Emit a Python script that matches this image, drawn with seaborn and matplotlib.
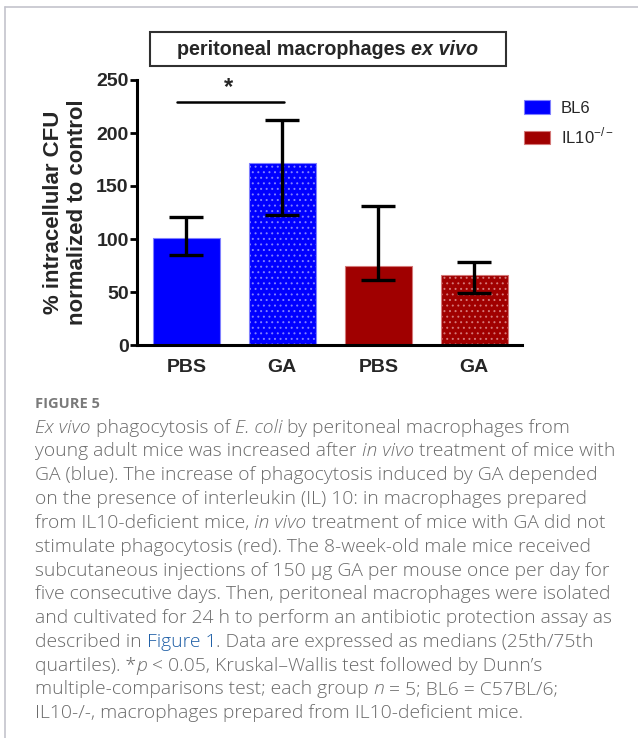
import re
import numpy as np
import pandas as pd
import matplotlib
matplotlib.use("Agg")
import matplotlib.pyplot as plt
import seaborn as sns
from matplotlib.patches import Patch, Rectangle
from matplotlib.lines import Line2D

# ---------------- data ----------------
groups = ["PBS", "GA", "PBS", "GA"]
strains = ["BL6", "BL6", "IL10", "IL10"]
medians = [101, 172, 75, 66.5]
q25 = [85, 123, 61, 49]
q75 = [120.5, 212, 131, 78]
yticks = [0, 50, 100, 150, 200, 250]
legend_labels = ["BL6", r"IL10$^{\mathregular{-/-}}$"]
ylabel = "% intracellular CFU\nnormalized to control"
title_parts = [("peritoneal macrophages ", "normal"), ("ex vivo", "italic")]
sig_pair = (0, 1)
sig_text = "*"
caption_label = "FIGURE 5"
caption_lines = [
    "_Ex vivo_ phagocytosis of _E. coli_ by peritoneal macrophages from",
    "young adult mice was increased after _in vivo_ treatment of mice with",
    "GA (blue). The increase of phagocytosis induced by GA depended",
    "on the presence of interleukin (IL) 10: in macrophages prepared",
    "from IL10-deficient mice, _in vivo_ treatment of mice with GA did not",
    "stimulate phagocytosis (red). The 8-week-old male mice received",
    "subcutaneous injections of 150 μg GA per mouse once per day for",
    "five consecutive days. Then, peritoneal macrophages were isolated",
    "and cultivated for 24 h to perform an antibiotic protection assay as",
    "described in [Figure 1]. Data are expressed as medians (25th/75th",
    "quartiles). *_p_ < 0.05, Kruskal–Wallis test followed by Dunn’s",
    "multiple-comparisons test; each group _n_ = 5; BL6 = C57BL/6;",
    "IL10-/-, macrophages prepared from IL10-deficient mice.",
]

# ---------------- styling ----------------
sns.set_style("ticks")
plt.rcParams["font.family"] = ["Liberation Sans", "DejaVu Sans"]
plt.rcParams["hatch.linewidth"] = 0.7

W, H = 638, 738
fig = plt.figure(figsize=(W / 100, H / 100), dpi=100)
fig.patch.set_facecolor("white")
renderer = fig.canvas.get_renderer()

blue, red = "#0000ff", "#a00000"
edge = {"BL6": "#8080ff", "IL10": "#d47878"}

ax = fig.add_axes([137.3 / W, 1 - 345 / H, (522.3 - 137.3) / W, (345 - 80) / H])

df = pd.DataFrame({
    "slot": [f"{s} {g}" for s, g in zip(strains, groups)],
    "group": groups,
    "strain": strains,
    "median": medians,
})
sns.barplot(data=df, x="slot", y="median", hue="strain", order=list(df["slot"]),
            palette={"BL6": blue, "IL10": red}, dodge=False, width=0.7,
            errorbar=None, legend=False, ax=ax, saturation=1)

for p in ax.patches:
    i = int(round(p.get_x() + p.get_width() / 2))
    if 0 <= i < len(groups):
        p.set_edgecolor(edge[strains[i]])
        p.set_linewidth(0.8)
        if groups[i] == "GA":
            p.set_hatch("...")

lo = np.array(medians) - np.array(q25)
hi = np.array(q75) - np.array(medians)
ax.errorbar(np.arange(len(medians)), medians, yerr=[lo, hi], fmt="none",
            ecolor="black", elinewidth=2.4, capsize=12, capthick=2.4, zorder=5)

ax.set_xlim(-0.51, 3.5)
ax.set_ylim(0, 250)
ax.set_yticks(yticks)
ax.set_yticklabels([str(t) for t in yticks], fontsize=14, fontweight="bold")
ax.set_xticks(range(len(groups)))
ax.set_xticklabels(groups, fontsize=14, fontweight="bold")
ax.tick_params(axis="x", length=0, pad=10)
ax.tick_params(axis="y", length=5, width=2, pad=1.2, color="black")
ax.set_xlabel("")
ax.set_ylabel(ylabel, fontsize=16, fontweight="bold", linespacing=1.2)
ax.yaxis.set_label_coords((88 - 137.3) / 385, 0.5)
sns.despine(ax=ax)
for s in ["left", "bottom"]:
    ax.spines[s].set_linewidth(2.2)
    ax.spines[s].set_color("black")

# significance bar
a, b = sig_pair
ax.plot([a - 0.1, b + 0.02], [229, 229], color="black", lw=1.8, clip_on=False)
ax.text((a + b) / 2 - 0.06, 232, sig_text, ha="center", va="bottom",
        fontsize=17, fontweight="bold")

# legend
handles = [Patch(facecolor=blue, edgecolor=edge["BL6"], lw=0.8),
           Patch(facecolor=red, edgecolor=edge["IL10"], lw=0.8)]
fig.legend(handles, legend_labels, loc="upper left",
           bbox_to_anchor=(524 / W, 1 - 100 / H), bbox_transform=fig.transFigure,
           frameon=False, fontsize=12, handlelength=1.55, handleheight=0.9,
           handletextpad=0.65, labelspacing=0.6, borderpad=0, borderaxespad=0)


# ---------------- rich text helper ----------------
def seg_width(s, **kw):
    t = fig.text(0, 0, "|" + s + "|", **kw)
    w1 = t.get_window_extent(renderer).width
    t.remove()
    t = fig.text(0, 0, "||", **kw)
    w2 = t.get_window_extent(renderer).width
    t.remove()
    return w1 - w2


def draw_segments(x, y, segs, ha="left"):
    widths = [seg_width(s, **kw) for s, kw in segs]
    total = sum(widths)
    if ha == "center":
        x = x - total / 2
    for (s, kw), w in zip(segs, widths):
        st = s.strip()
        lead = seg_width(s[: len(s) - len(s.lstrip())], **kw) if s[:1] == " " else 0
        if st:
            fig.text((x + lead) / W, 1 - y / H, st, ha="left", va="baseline", **kw)
        x += w
    return total


# title box
fig.add_artist(Rectangle((150 / W, 1 - 66 / H), (506 - 150) / W, 34 / H,
                         transform=fig.transFigure, fill=False,
                         edgecolor="#303030", lw=1.5))
tsegs = [(s, dict(fontsize=14.2, fontweight="bold", style=st)) for s, st in title_parts]
draw_segments(328, 55, tsegs, ha="center")

# page frame lines
fig.add_artist(Line2D([4.5 / W, 1], [1 - 6.5 / H, 1 - 6.5 / H], transform=fig.transFigure,
                      color="#c4c4cc", lw=1.2))
fig.add_artist(Line2D([4.5 / W, 4.5 / W], [0, 1 - 6.5 / H], transform=fig.transFigure,
                      color="#c4c4cc", lw=1.2))

# caption
cap_font = ["Open Sans", "DejaVu Sans"]
cap_color = "#6a6a6a"
link_color = "#1f5fa6"
fig.text(35 / W, 1 - 408 / H, caption_label, ha="left", va="baseline",
         fontsize=10.5, fontweight="bold", color="#7a7a7a", family=cap_font)


def parse(line):
    out = []
    for part in re.split(r"(_[^_]+_|\[[^\]]+\])", line):
        if not part:
            continue
        kw = dict(fontsize=13.9, family=cap_font, color=cap_color, fontweight="light")
        if part.startswith("_"):
            part = part[1:-1]
            kw["style"] = "italic"
        elif part.startswith("["):
            part = part[1:-1]
            kw["color"] = link_color
        out.append((part, kw))
    return out


for i, line in enumerate(caption_lines):
    draw_segments(35, 432.7 + 23.8 * i, parse(line))

fig.savefig("out.png", dpi=100, facecolor="white")
